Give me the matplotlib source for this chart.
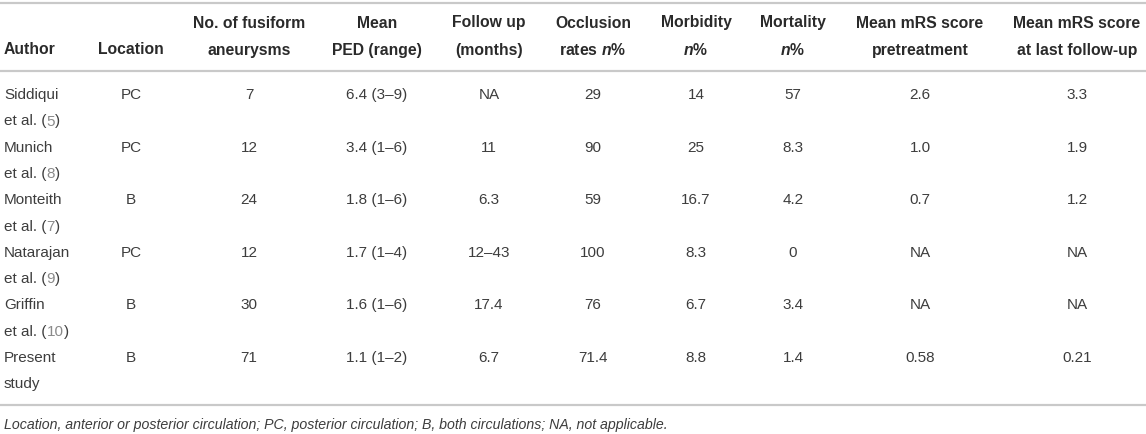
import matplotlib
matplotlib.use("Agg")
import matplotlib.pyplot as plt

plt.rcParams['font.family'] = ['Liberation Sans', 'DejaVu Sans']
plt.rcParams['mathtext.fontset'] = 'custom'
plt.rcParams['mathtext.it'] = 'Liberation Sans:italic:bold'
plt.rcParams['mathtext.rm'] = 'Liberation Sans:bold'

# ============== table data ==============
authors = ["Siddiqui", "Munich", "Monteith", "Natarajan", "Griffin", "Present"]
author_line2 = ["et al.", "et al.", "et al.", "et al.", "et al.", "study"]
refs = ["5", "8", "7", "9", "10", ""]
location = ["PC", "PC", "B", "PC", "B", "B"]
n_aneurysms = ["7", "12", "24", "12", "30", "71"]
ped = ["6.4 (3–9)", "3.4 (1–6)", "1.8 (1–6)", "1.7 (1–4)", "1.6 (1–6)", "1.1 (1–2)"]
follow_up = ["NA", "11", "6.3", "12–43", "17.4", "6.7"]
occlusion = ["29", "90", "59", "100", "76", "71.4"]
morbidity = ["14", "25", "16.7", "8.3", "6.7", "8.8"]
mortality = ["57", "8.3", "4.2", "0", "3.4", "1.4"]
mrs_pre = ["2.6", "1.0", "0.7", "NA", "NA", "0.58"]
mrs_last = ["3.3", "1.9", "1.2", "NA", "NA", "0.21"]

headers = [("", "Author"), ("", "Location"), ("No. of fusiform", "aneurysms"),
           ("Mean", "PED (range)"), ("Follow up", "(months)"),
           ("Occlusion", "rates $n$%"), ("Morbidity", "$n$%"), ("Mortality", "$n$%"),
           ("Mean mRS score", "pretreatment"), ("Mean mRS score", "at last follow-up")]
footnote = ("Location, anterior or posterior circulation; PC, posterior circulation; "
            "B, both circulations; NA, not applicable.")
# ========================================

W, H = 1146, 435
fig = plt.figure(figsize=(W / 100, H / 100), dpi=100)
ax = fig.add_axes([0, 0, 1, 1])
ax.set_xlim(0, W)
ax.set_ylim(H, 0)
ax.axis("off")

col_x = [4, 131, 249, 377, 489, 593, 696, 793, 920, 1077]
head_col = "#2a2a2a"
body_col = "#3d3d3d"
ref_col = "#8a8a8a"
rule_col = "#c9c9c9"
fs = 11
fs_head = 11.3

# rules
for y in (4, 72, 406):
    ax.plot([0, W], [y, y], color=rule_col, lw=1.6, solid_capstyle="butt")

# header
for i, (l1, l2) in enumerate(headers):
    ha = "left" if i == 0 else "center"
    if l1:
        ax.text(col_x[i], 23, l1, ha=ha, va="center", fontsize=fs_head,
                fontweight="bold", color=head_col)
    ax.text(col_x[i], 50, l2, ha=ha, va="center", fontsize=fs_head,
            fontweight="bold", color=head_col)

# body
row0, row_h, line_h = 95, 52.6, 26.5
columns = [location, n_aneurysms, ped, follow_up, occlusion, morbidity,
           mortality, mrs_pre, mrs_last]
for r in range(len(authors)):
    y = row0 + r * row_h
    ax.text(col_x[0], y, authors[r], ha="left", va="center", fontsize=fs, color=body_col)
    if refs[r]:
        t = ax.text(col_x[0], y + line_h, author_line2[r] + " (", ha="left",
                    va="center", fontsize=fs, color=body_col)
        t2 = ax.annotate(refs[r], xycoords=t, xy=(1, 0.5), va="center",
                         ha="left", fontsize=fs, color=ref_col)
        ax.annotate(")", xycoords=t2, xy=(1, 0.5), va="center", ha="left",
                    fontsize=fs, color=body_col)
    else:
        ax.text(col_x[0], y + line_h, author_line2[r], ha="left", va="center",
                fontsize=fs, color=body_col)
    for c, vals in enumerate(columns):
        ax.text(col_x[c + 1], y, vals[r], ha="center", va="center",
                fontsize=fs, color=body_col)

ax.text(col_x[0], 425, footnote, ha="left", va="center", fontsize=10.2,
        style="italic", color=body_col)

fig.savefig("out.png", dpi=100)
